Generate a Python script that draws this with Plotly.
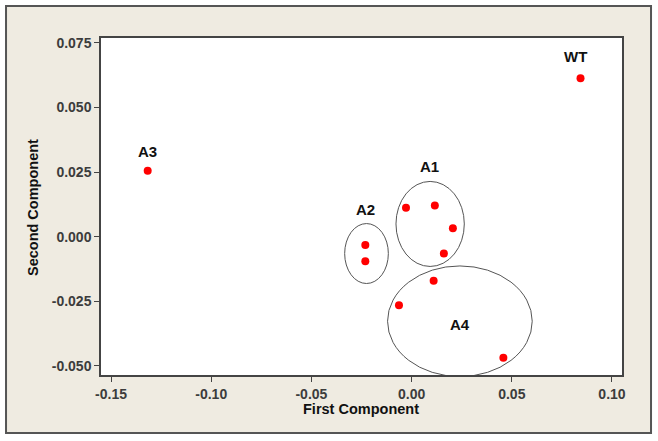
import plotly.graph_objects as go

# Data
pc1 = [0.0843, -0.1317, -0.0028, 0.0116, 0.0206, 0.0161, -0.0231, -0.0231, 0.0110, -0.0063, 0.0458]
pc2 = [0.0613, 0.0255, 0.0112, 0.0121, 0.0033, -0.0065, -0.0032, -0.0095, -0.0170, -0.0265, -0.0468]

group_names = ["WT", "A3", "A2", "A1", "A4"]
group_label_x = [0.0818, -0.1317, -0.0230, 0.0090, 0.0240]
group_label_y = [0.0698, 0.0330, 0.0106, 0.0273, -0.0339]

# Ellipses drawn around groups: (x0, x1, y0, y1)
ellipse_names = ["A1", "A2", "A4"]
ellipse_x0 = [-0.0078, -0.0334, -0.0120]
ellipse_x1 = [0.0263, -0.0116, 0.0602]
ellipse_y0 = [-0.0115, -0.0181, -0.0541]
ellipse_y1 = [0.0214, 0.0051, -0.0113]

x_ticks = [-0.15, -0.10, -0.05, 0.00, 0.05, 0.10]
x_tick_text = ["-0.15", "-0.10", "-0.05", "0.00", "0.05", "0.10"]
y_ticks = [-0.050, -0.025, 0.000, 0.025, 0.050, 0.075]
y_tick_text = ["-0.050", "-0.025", "0.000", "0.025", "0.050", "0.075"]

fig = go.Figure()
fig.add_trace(go.Scatter(
    x=pc1, y=pc2, mode="markers",
    marker=dict(color="#ff0000", size=8, line=dict(width=0)),
    showlegend=False, hoverinfo="x+y"))

shapes = [dict(type="rect", xref="paper", yref="paper",
               x0=-0.1823, x1=1.0557, y0=-0.1721, y1=1.0950,
               fillcolor="#efebe1", line=dict(color="#555555", width=2),
               layer="below"),
          dict(type="rect", xref="paper", yref="paper",
               x0=0, x1=1, y0=0, y1=1,
               fillcolor="#ffffff", line=dict(width=0), layer="below")]
for i in range(len(ellipse_names)):
    shapes.append(dict(type="circle", xref="x", yref="y",
                       x0=ellipse_x0[i], x1=ellipse_x1[i],
                       y0=ellipse_y0[i], y1=ellipse_y1[i],
                       line=dict(color="#555555", width=1), layer="above"))

annotations = []
for name, lx, ly in zip(group_names, group_label_x, group_label_y):
    annotations.append(dict(x=lx, y=ly, xref="x", yref="y", text=name,
                            showarrow=False, xanchor="center", yanchor="middle",
                            font=dict(family="Liberation Sans", size=15, color="#111111",
                                      weight="bold")))
annotations.append(dict(x=0.499, y=-0.1009, xref="paper", yref="paper",
                        text="First Component", showarrow=False,
                        xanchor="center", yanchor="middle",
                        font=dict(family="Liberation Sans", size=14.5, color="#111111", weight="bold")))
annotations.append(dict(x=-0.1305, y=0.4955, xref="paper", yref="paper",
                        text="Second Component", showarrow=False, textangle=-90,
                        xanchor="center", yanchor="middle",
                        font=dict(family="Liberation Sans", size=14.5, color="#111111", weight="bold")))

axis_common = dict(showgrid=False, zeroline=False, showline=True, mirror=True,
                   linecolor="#444444", linewidth=1.5, ticks="outside", ticklen=5,
                   tickwidth=1, tickcolor="#444444",
                   tickfont=dict(family="Liberation Sans", size=14, color="#3c3c3c", weight="bold"))

fig.update_layout(
    width=658, height=441,
    margin=dict(l=101, r=36, t=38, b=66),
    paper_bgcolor="#ffffff", plot_bgcolor="#ffffff",
    xaxis=dict(range=[-0.155, 0.105], tickvals=x_ticks, ticktext=x_tick_text, **axis_common),
    yaxis=dict(range=[-0.0535, 0.0769], tickvals=y_ticks, ticktext=y_tick_text, **axis_common),
    shapes=shapes, annotations=annotations,
)

fig.write_html("out.html", config={"displayModeBar": False},
               post_script="document.body.style.margin='0';")
